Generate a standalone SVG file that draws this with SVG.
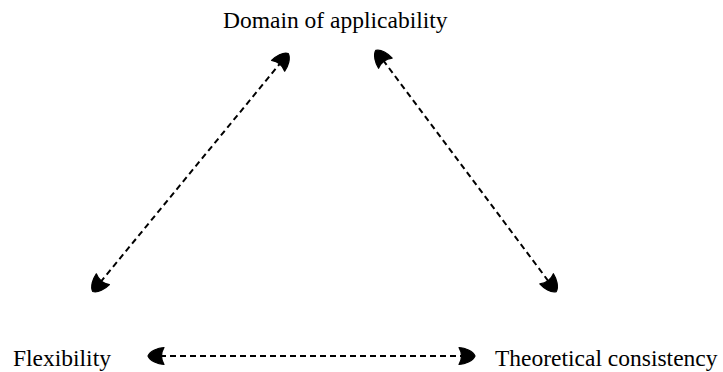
<svg xmlns="http://www.w3.org/2000/svg" width="723" height="372" viewBox="0 0 723 372">
<style>
.lbl{font-family:"Liberation Serif","Times New Roman",serif;font-size:23.5px;fill:#000}
.edge{stroke:#000;stroke-width:2;stroke-dasharray:6 4;fill:none}
</style>
<defs>
<marker id="ah" viewBox="-18 -10 20 20" refX="-2" refY="0" markerWidth="20" markerHeight="20" markerUnits="userSpaceOnUse" orient="auto-start-reverse">
<path d="M0,0 C-2,-5 -10,-8 -16,-8.5 Q-11,0 -16,8.5 C-10,8 -2,5 0,0 Z" fill="#000" stroke="#000" stroke-width="1.2" stroke-linejoin="round"/>
</marker>
</defs>
<rect width="723" height="372" fill="#fff"/>
<g id="domain"><text class="lbl" x="223" y="28">Domain of applicability</text></g>
<g id="flexibility"><text class="lbl" x="13" y="366">Flexibility</text></g>
<g id="consistency"><text class="lbl" x="495" y="366">Theoretical consistency</text></g>
<g id="connectors">
<line class="edge" x1="94" y1="290" x2="287" y2="55" marker-start="url(#ah)" marker-end="url(#ah)"/>
<line class="edge" x1="377" y1="52" x2="555" y2="290" marker-start="url(#ah)" marker-end="url(#ah)"/>
<line class="edge" x1="150" y1="356" x2="473" y2="356" marker-start="url(#ah)" marker-end="url(#ah)"/>
</g>
</svg>
